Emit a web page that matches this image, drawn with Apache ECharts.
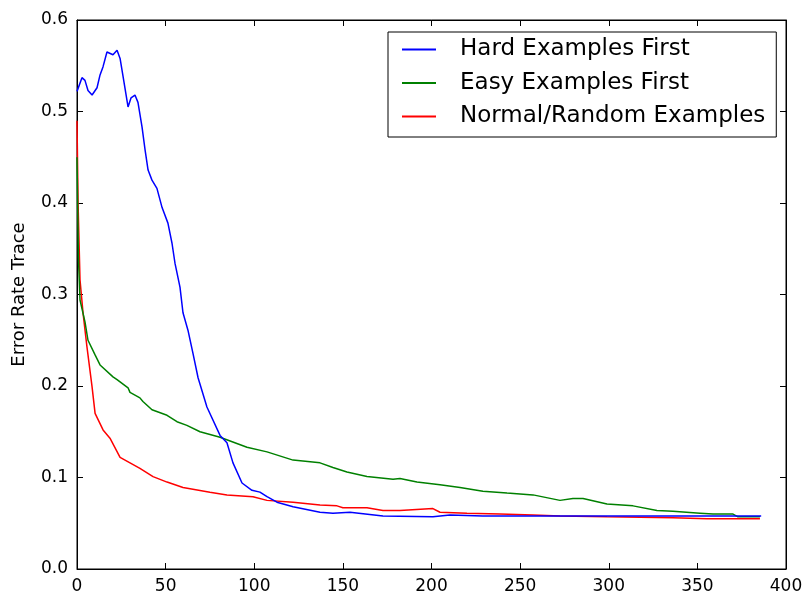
<!DOCTYPE html>
<html>
<head>
<meta charset="utf-8">
<script src="https://cdn.jsdelivr.net/npm/echarts@6/dist/echarts.min.js"></script>
<style>html,body{margin:0;padding:0;background:#fff}#c{width:806px;height:597px}</style>
</head>
<body>
<div id="c"></div>
<script>
var seriesNames = ['Hard Examples First', 'Easy Examples First', 'Normal/Random Examples'];

var hardX = [0, 2.8, 4.5, 6.2, 8.5, 11.3, 13, 14.7, 16.9, 18, 20.3, 22.6, 24.3, 26, 28.8, 30.5, 31.6, 32.7, 34.4, 36.7, 38.4, 40.1, 42.3, 45.1, 48, 51.3, 53.6, 55.3, 58.1, 59.8, 62.6, 65.4, 68.3, 73.3, 80.7, 84.6, 88, 93.1, 98.7, 103.2, 107.2, 112.8, 121.9, 137.1, 144.4, 154, 172.6, 200.8, 210.4, 229, 257.3, 295, 351, 386];
var hardY = [0.522, 0.537, 0.534, 0.523, 0.518, 0.526, 0.540, 0.549, 0.565, 0.567, 0.562, 0.567, 0.558, 0.538, 0.505, 0.515, 0.513, 0.518, 0.510, 0.483, 0.458, 0.436, 0.425, 0.416, 0.395, 0.378, 0.356, 0.334, 0.308, 0.280, 0.261, 0.236, 0.209, 0.177, 0.146, 0.138, 0.116, 0.094, 0.086, 0.084, 0.079, 0.073, 0.068, 0.062, 0.061, 0.062, 0.058, 0.057, 0.059, 0.058, 0.058, 0.058, 0.058, 0.058];

var easyX = [0, 0.8, 1.7, 4.5, 6.2, 10.2, 13, 20.3, 22.6, 28.8, 29.9, 35.5, 37.2, 42.3, 50.8, 56.4, 62, 69.4, 80.7, 95.9, 107.2, 121.9, 137.1, 144.4, 152.3, 163.6, 178.3, 182.2, 191.8, 204.8, 216.1, 229, 242.6, 257.3, 272.5, 279.8, 285.5, 299, 313.7, 327.2, 336.2, 351.5, 358.8, 370.1, 372.9, 385.3];
var easyY = [0.45, 0.34, 0.294, 0.270, 0.250, 0.234, 0.223, 0.210, 0.207, 0.198, 0.193, 0.187, 0.183, 0.174, 0.168, 0.161, 0.157, 0.150, 0.144, 0.133, 0.128, 0.119, 0.116, 0.111, 0.106, 0.101, 0.098, 0.099, 0.095, 0.092, 0.089, 0.085, 0.083, 0.081, 0.075, 0.077, 0.077, 0.071, 0.069, 0.064, 0.063, 0.061, 0.060, 0.060, 0.057, 0.057];

var randX = [0, 0.6, 1.7, 3.4, 5.6, 8.5, 10.2, 14.7, 18.6, 24.3, 29.9, 35.5, 42.9, 50.8, 59.8, 75, 84.6, 99.3, 107.2, 121.9, 137.1, 146.7, 150, 163.6, 172.6, 182.2, 200.8, 204.8, 220, 238.6, 257.3, 272.5, 299, 336.2, 355.4, 385.3];
var randY = [0.49, 0.40, 0.316, 0.280, 0.243, 0.199, 0.170, 0.152, 0.143, 0.122, 0.116, 0.110, 0.101, 0.095, 0.089, 0.084, 0.081, 0.079, 0.075, 0.073, 0.070, 0.069, 0.067, 0.067, 0.064, 0.064, 0.066, 0.062, 0.061, 0.060, 0.059, 0.058, 0.057, 0.056, 0.055, 0.055];

var xTicks = [0, 50, 100, 150, 200, 250, 300, 350, 400];
var yTicks = [0.0, 0.1, 0.2, 0.3, 0.4, 0.5, 0.6];

function pairs(xs, ys) { return xs.map(function (x, i) { return [x, ys[i]]; }); }

var colors = ['#0000ff', '#008000', '#ff0000'];
var dataSets = [pairs(hardX, hardY), pairs(easyX, easyY), pairs(randX, randY)];

var font = 'DejaVu Sans';
var tickStyle = { show: true, inside: true, length: 6, lineStyle: { color: '#000', width: 1 } };

var chart = echarts.init(document.getElementById('c'), null, { renderer: 'canvas' });
chart.setOption({
  animation: false,
  backgroundColor: '#fff',
  grid: { left: 77, right: 20, top: 20, bottom: 28, show: true, borderColor: '#000', borderWidth: 1 },
  legend: {
    orient: 'vertical',
    left: 388, top: 32,
    padding: [6, 11, 9, 14],
    itemGap: 10.5,
    itemWidth: 34, itemHeight: 2,
    icon: 'rect',
    borderColor: '#000', borderWidth: 1,
    backgroundColor: '#fff',
    textStyle: { fontFamily: font, fontSize: 23, color: '#000', padding: [0, 0, 0, 19] },
    data: seriesNames
  },
  xAxis: [{
    type: 'value', min: xTicks[0], max: xTicks[xTicks.length - 1], interval: 50,
    axisLine: { show: true, onZero: false, lineStyle: { color: '#000' } },
    axisTick: tickStyle,
    splitLine: { show: false },
    axisLabel: { fontFamily: font, fontSize: 17, color: '#000', margin: 9 }
  }, {
    type: 'value', position: 'top', min: 0, max: 400, interval: 50,
    axisLine: { show: true, onZero: false, lineStyle: { color: '#000' } },
    axisTick: tickStyle, axisLabel: { show: false }, splitLine: { show: false }
  }],
  yAxis: [{
    type: 'value', min: yTicks[0], max: yTicks[yTicks.length - 1], interval: 0.1,
    name: 'Error Rate Trace', nameLocation: 'middle', nameGap: 49,
    nameTextStyle: { fontFamily: font, fontSize: 18, color: '#000' },
    axisLine: { show: true, onZero: false, lineStyle: { color: '#000' } },
    axisTick: tickStyle,
    splitLine: { show: false },
    axisLabel: { fontFamily: font, fontSize: 17, color: '#000', margin: 9, formatter: function (v) { return v.toFixed(1); } }
  }, {
    type: 'value', position: 'right', min: 0, max: 0.6, interval: 0.1,
    axisLine: { show: true, onZero: false, lineStyle: { color: '#000' } },
    axisTick: tickStyle, axisLabel: { show: false }, splitLine: { show: false }
  }],
  series: seriesNames.map(function (n, i) {
    return {
      name: n, type: 'line', data: dataSets[i], showSymbol: false, symbol: 'none',
      lineStyle: { color: colors[i], width: 1.5 }, itemStyle: { color: colors[i] },
      xAxisIndex: 0, yAxisIndex: 0, z: 3 - i
    };
  })
});
</script>
</body>
</html>
